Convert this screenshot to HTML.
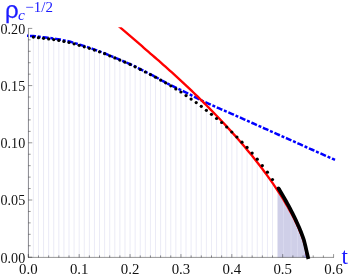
<!DOCTYPE html>
<html><head><meta charset="utf-8"><style>
html,body{margin:0;padding:0;background:#fff;}
svg{display:block;will-change:transform;}
text{font-family:"Liberation Serif",serif;}
</style></head><body>
<svg width="348" height="277" viewBox="0 0 348 277">
<defs><clipPath id="cp"><rect x="0" y="27.3" width="348" height="250"/></clipPath></defs>
<rect width="348" height="277" fill="#fff"/>
<g stroke="#d6d6ec" stroke-width="0.5"><line x1="28.30" y1="36.90" x2="28.30" y2="257.2"/><line x1="33.39" y1="37.10" x2="33.39" y2="257.2"/><line x1="38.48" y1="37.70" x2="38.48" y2="257.2"/><line x1="43.56" y1="38.30" x2="43.56" y2="257.2"/><line x1="48.65" y1="38.90" x2="48.65" y2="257.2"/><line x1="53.74" y1="39.60" x2="53.74" y2="257.2"/><line x1="58.83" y1="40.40" x2="58.83" y2="257.2"/><line x1="63.92" y1="41.40" x2="63.92" y2="257.2"/><line x1="69.00" y1="42.50" x2="69.00" y2="257.2"/><line x1="74.09" y1="43.80" x2="74.09" y2="257.2"/><line x1="79.18" y1="45.30" x2="79.18" y2="257.2"/><line x1="84.27" y1="46.80" x2="84.27" y2="257.2"/><line x1="89.36" y1="48.30" x2="89.36" y2="257.2"/><line x1="94.44" y1="50.10" x2="94.44" y2="257.2"/><line x1="99.53" y1="51.80" x2="99.53" y2="257.2"/><line x1="104.62" y1="53.70" x2="104.62" y2="257.2"/><line x1="109.71" y1="55.80" x2="109.71" y2="257.2"/><line x1="114.80" y1="57.90" x2="114.80" y2="257.2"/><line x1="119.88" y1="60.10" x2="119.88" y2="257.2"/><line x1="124.97" y1="62.20" x2="124.97" y2="257.2"/><line x1="130.06" y1="64.40" x2="130.06" y2="257.2"/><line x1="135.15" y1="66.80" x2="135.15" y2="257.2"/><line x1="140.24" y1="69.40" x2="140.24" y2="257.2"/><line x1="145.32" y1="72.00" x2="145.32" y2="257.2"/><line x1="150.41" y1="74.60" x2="150.41" y2="257.2"/><line x1="155.50" y1="77.20" x2="155.50" y2="257.2"/><line x1="160.59" y1="80.10" x2="160.59" y2="257.2"/><line x1="165.68" y1="82.80" x2="165.68" y2="257.2"/><line x1="170.76" y1="85.80" x2="170.76" y2="257.2"/><line x1="175.85" y1="88.90" x2="175.85" y2="257.2"/><line x1="180.94" y1="92.00" x2="180.94" y2="257.2"/><line x1="186.03" y1="95.60" x2="186.03" y2="257.2"/><line x1="191.12" y1="99.10" x2="191.12" y2="257.2"/><line x1="196.20" y1="102.60" x2="196.20" y2="257.2"/><line x1="201.29" y1="106.30" x2="201.29" y2="257.2"/><line x1="206.38" y1="110.30" x2="206.38" y2="257.2"/><line x1="211.47" y1="114.30" x2="211.47" y2="257.2"/><line x1="216.56" y1="118.50" x2="216.56" y2="257.2"/><line x1="221.64" y1="122.50" x2="221.64" y2="257.2"/><line x1="226.73" y1="127.00" x2="226.73" y2="257.2"/><line x1="231.82" y1="132.00" x2="231.82" y2="257.2"/><line x1="236.91" y1="137.00" x2="236.91" y2="257.2"/><line x1="242.00" y1="142.20" x2="242.00" y2="257.2"/><line x1="247.08" y1="147.40" x2="247.08" y2="257.2"/><line x1="252.17" y1="153.10" x2="252.17" y2="257.2"/><line x1="257.26" y1="159.20" x2="257.26" y2="257.2"/><line x1="262.35" y1="165.60" x2="262.35" y2="257.2"/><line x1="267.44" y1="172.20" x2="267.44" y2="257.2"/><line x1="272.52" y1="179.50" x2="272.52" y2="257.2"/></g>
<path d="M277.5,257.4 L277.5,186.75 L278.50,188.37 L279.23,189.56 L279.95,190.76 L280.68,191.97 L281.40,193.19 L282.13,194.41 L282.85,195.65 L283.58,196.90 L284.31,198.16 L285.03,199.43 L285.76,200.72 L286.48,202.01 L287.21,203.32 L287.93,204.65 L288.66,205.98 L289.39,207.34 L290.11,208.71 L290.84,210.09 L291.56,211.49 L292.29,212.92 L293.01,214.36 L293.74,215.82 L294.47,217.31 L295.19,218.82 L295.92,220.35 L296.64,221.92 L297.37,223.51 L298.09,225.14 L298.82,226.80 L299.55,228.50 L300.27,230.25 L301.00,232.05 L301.72,233.90 L302.45,235.82 L303.17,237.82 L303.90,239.91 L305.40,246.00 L306.75,251.90 L308,257.4 Z" fill="#cfcfe8"/><path d="M304.0,257.4 L306.9,257.4 L305.7,250.5 Z" fill="#7878d8" opacity="0.6"/>
<g stroke="#d9d9ee" stroke-width="0.9"><line x1="283.5" y1="200" x2="283.5" y2="257"/><line x1="291" y1="212" x2="291" y2="257"/><line x1="297.5" y1="226" x2="297.5" y2="257"/></g>
<path d="M27.00,35.85 L29.07,35.86 L31.13,35.93 L33.20,36.04 L35.27,36.23 L37.34,36.50 L39.40,36.76 L41.47,37.00 L43.54,37.25 L45.60,37.49 L47.67,37.73 L49.74,37.99 L51.81,38.27 L53.87,38.57 L55.94,38.88 L58.01,39.21 L60.07,39.58 L62.14,39.99 L64.21,40.41 L66.28,40.84 L68.34,41.29 L70.41,41.81 L72.48,42.38 L74.54,42.99 L76.61,43.64 L78.68,44.30 L80.74,44.96 L82.81,45.61 L84.88,46.26 L86.95,46.90 L89.01,47.56 L91.08,48.30 L93.15,49.10 L95.21,49.86 L97.28,50.59 L99.35,51.32 L101.42,52.12 L103.48,52.94 L105.55,53.78 L107.62,54.63 L109.68,55.49 L111.75,56.34 L113.82,57.19 L115.89,58.07 L117.95,58.97 L120.02,59.86 L122.09,60.71 L124.15,61.56 L126.22,62.43 L128.29,63.32 L130.36,64.23 L132.42,65.19 L134.49,66.18 L136.56,67.20 L138.62,68.27 L140.69,69.33 L142.76,70.39 L144.83,71.45 L146.89,72.50 L148.96,73.56 L151.03,74.61 L153.09,75.65 L155.16,76.72 L157.23,77.87 L159.30,79.07 L161.36,80.22 L163.43,81.34 L165.50,82.44 L167.56,83.53 L169.63,84.60 L171.70,85.65 L173.77,86.69 L175.83,87.71 L177.90,88.68 L179.97,89.64 L182.03,90.59 L184.10,91.57 L186.17,92.58 L188.23,93.62 L190.30,94.70 L192.37,95.78 L194.44,96.87 L196.50,97.95 L198.57,99.01 L200.64,100.03 L202.70,101.03 L204.77,102.00 L206.84,102.95 L208.91,103.89 L210.97,104.81 L213.04,105.73 L215.11,106.63 L217.17,107.53 L219.24,108.42 L221.31,109.31 L223.38,110.21 L225.44,111.10 L227.51,111.99 L229.58,112.89 L231.64,113.80 L233.71,114.72 L235.78,115.64 L237.85,116.55 L239.91,117.47 L241.98,118.40 L244.05,119.32 L246.11,120.24 L248.18,121.16 L250.25,122.08 L252.32,123.01 L254.38,123.93 L256.45,124.85 L258.52,125.77 L260.58,126.70 L262.65,127.62 L264.72,128.54 L266.79,129.47 L268.85,130.39 L270.92,131.31 L272.99,132.23 L275.05,133.15 L277.12,134.08 L279.19,135.00 L281.26,135.92 L283.32,136.84 L285.39,137.76 L287.46,138.69 L289.52,139.61 L291.59,140.53 L293.66,141.45 L295.72,142.38 L297.79,143.30 L299.86,144.22 L301.93,145.14 L303.99,146.06 L306.06,146.99 L308.13,147.91 L310.19,148.83 L312.26,149.75 L314.33,150.68 L316.40,151.60 L318.46,152.52 L320.53,153.44 L322.60,154.37 L324.66,155.29 L326.73,156.21 L328.80,157.13 L330.87,158.05 L332.93,158.98 L335.00,159.90" fill="none" stroke="#0000ff" stroke-width="2.5" stroke-dasharray="6.0 1.8 3.0 1.8" stroke-dashoffset="9.6"/>
<path d="M117.49,25.16 L119.54,26.87 L121.59,28.59 L123.63,30.32 L125.68,32.06 L127.73,33.80 L129.77,35.55 L131.82,37.31 L133.86,39.08 L135.91,40.85 L137.95,42.64 L139.99,44.43 L142.04,46.23 L144.08,48.04 L146.12,49.86 L148.26,51.69 L150.41,53.53 L152.56,55.38 L154.72,57.24 L156.87,59.10 L159.02,60.98 L161.17,62.87 L163.32,64.76 L165.47,66.67 L167.62,68.59 L169.77,70.52 L171.92,72.46 L174.07,74.41 L176.22,76.37 L178.37,78.35 L180.53,80.34 L182.68,82.34 L184.83,84.35 L186.98,86.37 L189.13,88.41 L191.28,90.46 L193.43,92.52 L195.58,94.60 L197.73,96.70 L199.88,98.80 L202.03,100.93 L204.18,103.06 L206.34,105.22 L208.49,107.39 L210.64,109.57 L212.79,111.78 L214.94,114.00 L217.09,116.24 L219.24,118.50 L221.39,120.78 L223.54,123.07 L225.69,125.39 L227.84,127.73 L230.00,130.09 L232.15,132.48 L234.30,134.88 L236.45,137.31 L238.60,139.77 L240.75,142.26 L242.90,144.77 L245.05,147.31 L247.20,149.88 L249.35,152.48 L251.50,155.11 L253.65,157.78 L255.81,160.48 L257.96,163.22 L260.11,166.00 L262.26,168.83 L264.41,171.70 L266.56,174.62 L268.71,177.59 L270.86,180.61 L273.01,183.69 L275.16,186.84 L277.31,190.06 L279.46,193.35 L281.62,196.73 L283.77,200.20 L285.92,203.77 L288.07,207.47 L290.22,211.30 L292.37,215.28 L294.52,219.46 L296.67,223.87 L298.82,228.57 L300.97,233.67 L303.12,239.35 L305.28,246.08 L307.43,257.20" fill="none" stroke="#ff0000" stroke-width="2.35" clip-path="url(#cp)"/>
<path d="M278.50,188.37 L279.23,189.56 L279.95,190.76 L280.68,191.97 L281.40,193.19 L282.13,194.41 L282.85,195.65 L283.58,196.90 L284.31,198.16 L285.03,199.43 L285.76,200.72 L286.48,202.01 L287.21,203.32 L287.93,204.65 L288.66,205.98 L289.39,207.34 L290.11,208.71 L290.84,210.09 L291.56,211.49 L292.29,212.92 L293.01,214.36 L293.74,215.82 L294.47,217.31 L295.19,218.82 L295.92,220.35 L296.64,221.92 L297.37,223.51 L298.09,225.14 L298.82,226.80 L299.55,228.50 L300.27,230.25 L301.00,232.05 L301.72,233.90 L302.45,235.82 L303.17,237.82 L303.90,239.91 L305.40,246.00 L306.75,251.90 L308.40,259.00" fill="none" stroke="#000" stroke-width="3.7" stroke-linecap="butt"/><circle cx="278.50" cy="188.37" r="1.8" fill="#000"/>
<g fill="#000"><circle cx="33.39" cy="37.10" r="1.6"/><circle cx="38.48" cy="37.70" r="1.6"/><circle cx="43.56" cy="38.30" r="1.6"/><circle cx="48.65" cy="38.90" r="1.6"/><circle cx="53.74" cy="39.60" r="1.6"/><circle cx="58.83" cy="40.40" r="1.6"/><circle cx="63.92" cy="41.40" r="1.6"/><circle cx="69.00" cy="42.50" r="1.6"/><circle cx="74.09" cy="43.80" r="1.6"/><circle cx="79.18" cy="45.30" r="1.6"/><circle cx="84.27" cy="46.80" r="1.6"/><circle cx="89.36" cy="48.30" r="1.6"/><circle cx="94.44" cy="50.10" r="1.6"/><circle cx="99.53" cy="51.80" r="1.6"/><circle cx="104.62" cy="53.70" r="1.6"/><circle cx="109.71" cy="55.80" r="1.6"/><circle cx="114.80" cy="57.90" r="1.6"/><circle cx="119.88" cy="60.10" r="1.6"/><circle cx="124.97" cy="62.20" r="1.6"/><circle cx="130.06" cy="64.40" r="1.6"/><circle cx="135.15" cy="66.80" r="1.6"/><circle cx="140.24" cy="69.40" r="1.6"/><circle cx="145.32" cy="72.00" r="1.6"/><circle cx="150.41" cy="74.60" r="1.6"/><circle cx="155.50" cy="77.20" r="1.6"/><circle cx="160.59" cy="80.10" r="1.6"/><circle cx="165.68" cy="82.80" r="1.6"/><circle cx="170.76" cy="85.80" r="1.6"/><circle cx="175.85" cy="88.90" r="1.6"/><circle cx="180.94" cy="92.00" r="1.6"/><circle cx="186.03" cy="95.60" r="1.6"/><circle cx="191.12" cy="99.10" r="1.6"/><circle cx="196.20" cy="102.60" r="1.6"/><circle cx="201.29" cy="106.30" r="1.6"/><circle cx="206.38" cy="110.30" r="1.6"/><circle cx="211.47" cy="114.30" r="1.6"/><circle cx="216.56" cy="118.50" r="1.6"/><circle cx="221.64" cy="122.50" r="1.6"/><circle cx="226.73" cy="127.00" r="1.6"/><circle cx="231.82" cy="132.00" r="1.6"/><circle cx="236.91" cy="137.00" r="1.6"/><circle cx="242.00" cy="142.20" r="1.6"/><circle cx="247.08" cy="147.40" r="1.6"/><circle cx="252.17" cy="153.10" r="1.6"/><circle cx="257.26" cy="159.20" r="1.6"/><circle cx="262.35" cy="165.60" r="1.6"/><circle cx="267.44" cy="172.20" r="1.6"/><circle cx="272.52" cy="179.50" r="1.6"/></g>
<g stroke="#000" stroke-width="0.42">
<line x1="28.45" y1="28.099999999999998" x2="28.45" y2="257.7"/>
<line x1="28.15" y1="257.4" x2="333.88" y2="257.4"/>
<line x1="28.30" y1="257.4" x2="28.30" y2="254.09999999999997"/><line x1="38.48" y1="257.4" x2="38.48" y2="255.39999999999998"/><line x1="48.65" y1="257.4" x2="48.65" y2="255.39999999999998"/><line x1="58.83" y1="257.4" x2="58.83" y2="255.39999999999998"/><line x1="69.00" y1="257.4" x2="69.00" y2="255.39999999999998"/><line x1="79.18" y1="257.4" x2="79.18" y2="254.09999999999997"/><line x1="89.36" y1="257.4" x2="89.36" y2="255.39999999999998"/><line x1="99.53" y1="257.4" x2="99.53" y2="255.39999999999998"/><line x1="109.71" y1="257.4" x2="109.71" y2="255.39999999999998"/><line x1="119.88" y1="257.4" x2="119.88" y2="255.39999999999998"/><line x1="130.06" y1="257.4" x2="130.06" y2="254.09999999999997"/><line x1="140.24" y1="257.4" x2="140.24" y2="255.39999999999998"/><line x1="150.41" y1="257.4" x2="150.41" y2="255.39999999999998"/><line x1="160.59" y1="257.4" x2="160.59" y2="255.39999999999998"/><line x1="170.76" y1="257.4" x2="170.76" y2="255.39999999999998"/><line x1="180.94" y1="257.4" x2="180.94" y2="254.09999999999997"/><line x1="191.12" y1="257.4" x2="191.12" y2="255.39999999999998"/><line x1="201.29" y1="257.4" x2="201.29" y2="255.39999999999998"/><line x1="211.47" y1="257.4" x2="211.47" y2="255.39999999999998"/><line x1="221.64" y1="257.4" x2="221.64" y2="255.39999999999998"/><line x1="231.82" y1="257.4" x2="231.82" y2="254.09999999999997"/><line x1="242.00" y1="257.4" x2="242.00" y2="255.39999999999998"/><line x1="252.17" y1="257.4" x2="252.17" y2="255.39999999999998"/><line x1="262.35" y1="257.4" x2="262.35" y2="255.39999999999998"/><line x1="272.52" y1="257.4" x2="272.52" y2="255.39999999999998"/><line x1="282.70" y1="257.4" x2="282.70" y2="254.09999999999997"/><line x1="292.88" y1="257.4" x2="292.88" y2="255.39999999999998"/><line x1="303.05" y1="257.4" x2="303.05" y2="255.39999999999998"/><line x1="313.23" y1="257.4" x2="313.23" y2="255.39999999999998"/><line x1="323.40" y1="257.4" x2="323.40" y2="255.39999999999998"/><line x1="333.58" y1="257.4" x2="333.58" y2="254.09999999999997"/><line x1="28.45" y1="257.20" x2="32.25" y2="257.20"/><line x1="28.45" y1="245.76" x2="30.65" y2="245.76"/><line x1="28.45" y1="234.32" x2="30.65" y2="234.32"/><line x1="28.45" y1="222.88" x2="30.65" y2="222.88"/><line x1="28.45" y1="211.44" x2="30.65" y2="211.44"/><line x1="28.45" y1="200.00" x2="32.25" y2="200.00"/><line x1="28.45" y1="188.56" x2="30.65" y2="188.56"/><line x1="28.45" y1="177.12" x2="30.65" y2="177.12"/><line x1="28.45" y1="165.68" x2="30.65" y2="165.68"/><line x1="28.45" y1="154.24" x2="30.65" y2="154.24"/><line x1="28.45" y1="142.80" x2="32.25" y2="142.80"/><line x1="28.45" y1="131.36" x2="30.65" y2="131.36"/><line x1="28.45" y1="119.92" x2="30.65" y2="119.92"/><line x1="28.45" y1="108.48" x2="30.65" y2="108.48"/><line x1="28.45" y1="97.04" x2="30.65" y2="97.04"/><line x1="28.45" y1="85.60" x2="32.25" y2="85.60"/><line x1="28.45" y1="74.16" x2="30.65" y2="74.16"/><line x1="28.45" y1="62.72" x2="30.65" y2="62.72"/><line x1="28.45" y1="51.28" x2="30.65" y2="51.28"/><line x1="28.45" y1="39.84" x2="30.65" y2="39.84"/><line x1="28.45" y1="28.40" x2="32.25" y2="28.40"/>
</g>
<g font-size="15" fill="#111"><text transform="translate(28.30,273.6) scale(0.99,1)" text-anchor="middle">0.0</text><text transform="translate(79.18,273.6) scale(0.99,1)" text-anchor="middle">0.1</text><text transform="translate(130.06,273.6) scale(0.99,1)" text-anchor="middle">0.2</text><text transform="translate(180.94,273.6) scale(0.99,1)" text-anchor="middle">0.3</text><text transform="translate(231.82,273.6) scale(0.99,1)" text-anchor="middle">0.4</text><text transform="translate(282.70,273.6) scale(0.99,1)" text-anchor="middle">0.5</text><text transform="translate(333.58,273.6) scale(0.99,1)" text-anchor="middle">0.6</text><text transform="translate(25.2,262.50) scale(0.94,1)" text-anchor="end">0.00</text><text transform="translate(25.2,205.30) scale(0.94,1)" text-anchor="end">0.05</text><text transform="translate(25.2,148.10) scale(0.94,1)" text-anchor="end">0.10</text><text transform="translate(25.2,90.90) scale(0.94,1)" text-anchor="end">0.15</text><text transform="translate(25.2,33.70) scale(0.94,1)" text-anchor="end">0.20</text></g>
<g fill="#1a1aff">
<text x="5.1" y="17.7" font-size="24" stroke="#1a1aff" stroke-width="0.25" style="font-family:'Liberation Sans',sans-serif">ρ</text>
<text x="18" y="20.2" font-size="15.5" font-style="italic">c</text>
<text x="25.3" y="11.6" font-size="15">−1/2</text>
<text x="341.6" y="263.7" font-size="23">t</text>
</g>
</svg>
</body></html>
